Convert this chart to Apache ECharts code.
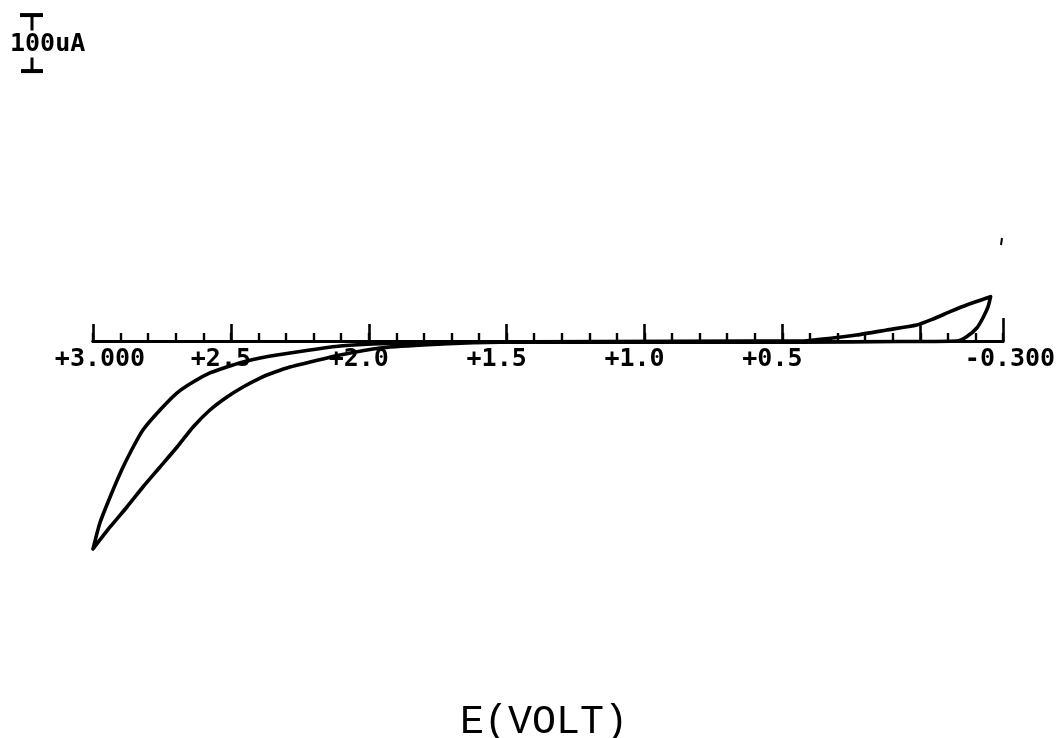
<!DOCTYPE html>
<html>
<head>
<meta charset="utf-8">
<script src="https://cdn.jsdelivr.net/npm/echarts@6/dist/echarts.min.js"></script>
<style>
  html, body { margin: 0; padding: 0; background: #fff; }
  #chart { width: 1062px; height: 738px; }
</style>
</head>
<body>
<div id="chart"></div>
<script>
// Cyclic voltammogram: potential E (V) and current I (uA), in sweep order.
// Starts at the -0.25 V switching point, runs out to +3.0 V and returns.
const forwardE = [-0.255, -0.246, -0.227, -0.205, -0.168, -0.132, 0.074, 0.436, 0.799, 1.161,
  1.524, 1.622, 1.803, 1.959, 2.104, 2.213, 2.286, 2.340, 2.394, 2.456,
  2.514, 2.576, 2.637, 2.695, 2.757, 2.819, 2.877, 2.938, 3.000];
const forwardI = [79.1, 61.3, 41.1, 23.2, 7.7, 0, -1, -2, -2, -2,
  -2, -3, -7.1, -12.5, -25, -37.5, -46.4, -55.4, -66.1, -82.1,
  -100, -123.2, -153.6, -189.3, -225, -260.7, -296.4, -332.1, -371.4];

const reverseE = [3.000, 2.975, 2.938, 2.896, 2.860, 2.819, 2.757, 2.696, 2.637, 2.576,
  2.515, 2.456, 2.394, 2.333, 2.213, 2.104, 1.985, 1.814, 1.669, 1.161,
  0.618, 0.436, 0.317, 0.231, 0.122, 0.013, -0.046, -0.108, -0.168, -0.255];
const reverseI = [-371.4, -325, -278.6, -230.4, -194.6, -158.9, -123.2, -92.9, -73.2, -57.1,
  -46.4, -37.5, -30.4, -25, -16, -8.9, -5.4, -2.7, -1.8, -1,
  0, 0, 5.4, 10.7, 19.6, 28.6, 39.3, 52.3, 64.3, 79.1];

// Potential axis
const labelValues = [3.0, 2.5, 2.0, 1.5, 1.0, 0.5, -0.3];
const labelTexts = ['+3.000', '+2.5', '+2.0', '+1.5', '+1.0', '+0.5', '-0.300'];
const majorTickValues = [3.0, 2.5, 2.0, 1.5, 1.0, 0.5, 0.0];
const endTickValues = [-0.3];

// Current scale bar
const scaleBarValue = 100;
const scaleBarText = '100uA';

const curve = forwardE.map((e, i) => [e, forwardI[i]])
  .concat(reverseE.map((e, i) => [e, reverseI[i]]));

const AXIS_FONT = '"DejaVu Sans Mono", monospace';
const INK = '#000';

function labelFor(value) {
  const idx = labelValues.findIndex(v => Math.abs(v - value) < 1e-6);
  if (idx < 0) return '';
  const text = labelTexts[idx];
  return text.length > 4 ? '{w|' + text + '}' : '{n|' + text + '}';
}

// The potential axis sits on the grid's lower edge, which is I = 0;
// the negative current branch is drawn below it (series are not clipped).
function potentialAxis(extra) {
  return Object.assign({
    type: 'value',
    gridIndex: 0,
    position: 'bottom',
    min: -0.3,
    max: 3.0,
    inverse: true,
    interval: 0.1,
    splitLine: { show: false },
    axisLine: { show: true, onZero: false, lineStyle: { color: INK, width: 2.8 } },
    axisLabel: { show: false }
  }, extra);
}

const chart = echarts.init(document.getElementById('chart'), null, { renderer: 'canvas' });

chart.setOption({
  animation: false,
  backgroundColor: '#fff',
  title: {
    text: 'E(VOLT)',
    left: 455,
    top: 697,
    textStyle: { fontFamily: '"Liberation Mono", monospace', fontSize: 40, fontWeight: 'normal', color: INK }
  },
  grid: { left: 93, right: 59, top: 5, bottom: 397, containLabel: false },
  xAxis: [
    potentialAxis({
      axisTick: { show: true, inside: true, length: 8, lineStyle: { color: INK, width: 2.4 } },
      axisLabel: {
        show: true,
        margin: 6,
        showMinLabel: true,
        showMaxLabel: true,
        customValues: labelValues,
        formatter: labelFor,
        color: INK,
        fontFamily: AXIS_FONT,
        fontSize: 25,
        fontWeight: 'bold',
        rich: {
          n: { fontFamily: AXIS_FONT, fontSize: 25, fontWeight: 'bold', color: INK, padding: [0, 20, 0, 0] },
          w: { fontFamily: AXIS_FONT, fontSize: 25, fontWeight: 'bold', color: INK, padding: [0, 0, 0, 14] }
        }
      }
    }),
    potentialAxis({
      axisTick: { show: true, inside: true, length: 17, customValues: majorTickValues,
        lineStyle: { color: INK, width: 2.6 } }
    }),
    potentialAxis({
      axisTick: { show: true, inside: true, length: 23, customValues: endTickValues,
        lineStyle: { color: INK, width: 2.6 } }
    })
  ],
  yAxis: { type: 'value', min: 0, max: 600, show: false },
  graphic: [
    { type: 'line', shape: { x1: 1002, y1: 238, x2: 1001, y2: 245 }, style: { stroke: INK, lineWidth: 2 } }
  ],
  series: [
    {
      type: 'line',
      xAxisIndex: 0,
      data: curve,
      clip: false,
      showSymbol: false,
      symbol: 'none',
      smooth: 0.2,
      lineStyle: { color: INK, width: 3.6, join: 'round', cap: 'round' },
      z: 5
    },
    {
      // vertical current scale bar, sized through the current axis
      type: 'custom',
      xAxisIndex: 0,
      clip: false,
      data: [[3.0, 582]],
      renderItem: function (params, api) {
        const top = api.coord([api.value(0), api.value(1)]);
        const len = api.size([0, scaleBarValue])[1];
        const x = top[0] - 61;
        const y0 = top[1];
        const y1 = y0 + len;
        return {
          type: 'group',
          children: [
            { type: 'line', shape: { x1: x, y1: y0, x2: x, y2: y1 }, style: { stroke: INK, lineWidth: 3 } },
            { type: 'line', shape: { x1: x - 12, y1: y0, x2: x + 11, y2: y0 }, style: { stroke: INK, lineWidth: 4 } },
            { type: 'line', shape: { x1: x - 11, y1: y1, x2: x + 11, y2: y1 }, style: { stroke: INK, lineWidth: 4 } },
            {
              type: 'text',
              x: x - 22,
              y: (y0 + y1) / 2 + 1,
              style: {
                text: scaleBarText,
                fill: INK,
                font: 'bold 25px ' + AXIS_FONT,
                align: 'left',
                verticalAlign: 'middle',
                backgroundColor: '#fff',
                padding: [1, 0, 1, 0]
              }
            }
          ]
        };
      }
    }
  ]
});
</script>
</body>
</html>
